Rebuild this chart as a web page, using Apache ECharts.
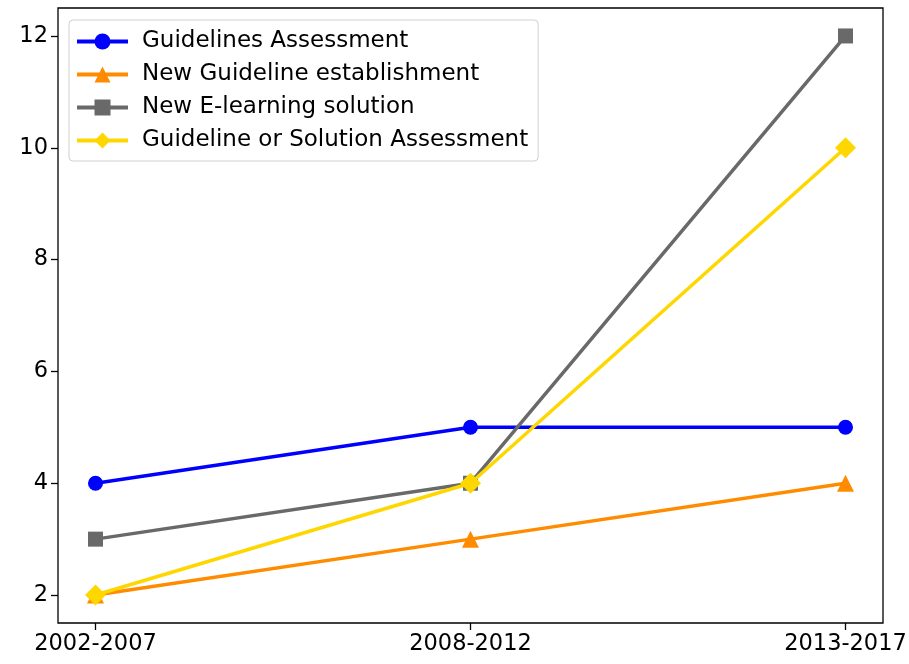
<!DOCTYPE html>
<html><head><meta charset="utf-8">
<script src="https://cdn.jsdelivr.net/npm/echarts@6/dist/echarts.min.js"></script>
<style>html,body{margin:0;padding:0;background:#fff}#c{width:909px;height:664px}</style>
</head><body><div id="c"></div>
<script>
const categories = ['2002-2007', '2008-2012', '2013-2017'];
const seriesNames = ['Guidelines Assessment', 'New Guideline establishment', 'New E-learning solution', 'Guideline or Solution Assessment'];
const guidelinesAssessment = [4, 5, 5];
const newGuideline = [2, 3, 4];
const newElearning = [3, 4, 12];
const solutionAssessment = [2, 4, 10];
const yTicks = [2, 4, 6, 8, 10, 12];

const colors = ['#0000ff', '#ff8c00', '#696969', '#ffd700'];
const symbols = ['circle', 'triangle', 'rect', 'diamond'];
const sizes = [15, 17, 15, 21];
const values = [guidelinesAssessment, newGuideline, newElearning, solutionAssessment];
const font = 'DejaVu Sans';

const chart = echarts.init(document.getElementById('c'), null, {renderer: 'canvas'});
chart.setOption({
  animation: false,
  backgroundColor: '#fff',
  grid: {left: 58, right: 26, top: 8, bottom: 41, show: true, borderColor: '#000', borderWidth: 1.3, backgroundColor: 'transparent', outerBoundsMode: 'none'},
  legend: {
    orient: 'vertical', left: 69, top: 20,
    backgroundColor: '#fff', borderColor: '#d0d0d0', borderWidth: 1, borderRadius: 4,
    padding: [10, 10, 9, 6], itemWidth: 51, itemHeight: 20, itemGap: 10,
    lineStyle: {width: 4},
    textStyle: {fontFamily: font, fontSize: 23, color: '#000', padding: [0, 0, 0, 9]},
    data: seriesNames
  },
  xAxis: {
    type: 'value', min: -0.1, max: 2.1,
    splitLine: {show: false},
    axisLine: {show: false, onZero: false},
    axisTick: {show: true, customValues: [0, 1, 2], length: 7, inside: false, lineStyle: {color: '#000', width: 1.3}},
    axisLabel: {customValues: [0, 1, 2], formatter: v => categories[Math.round(v)] || '', fontFamily: font, fontSize: 22.5, color: '#000', margin: 10}
  },
  yAxis: {
    type: 'value', min: 1.5, max: 12.5,
    splitLine: {show: false},
    axisLine: {show: false, onZero: false},
    axisTick: {show: true, customValues: yTicks, length: 7, lineStyle: {color: '#000', width: 1.3}},
    axisLabel: {customValues: yTicks, fontFamily: font, fontSize: 22.5, color: '#000', margin: 10}
  },
  series: seriesNames.map((n, i) => ({
    name: n, type: 'line',
    data: values[i].map((v, j) => [j, v]),
    symbol: symbols[i], symbolSize: sizes[i], showSymbol: true,
    itemStyle: {color: colors[i]},
    lineStyle: {color: colors[i], width: 3.5},
    z: 2 + i
  }))
});
</script></body></html>
